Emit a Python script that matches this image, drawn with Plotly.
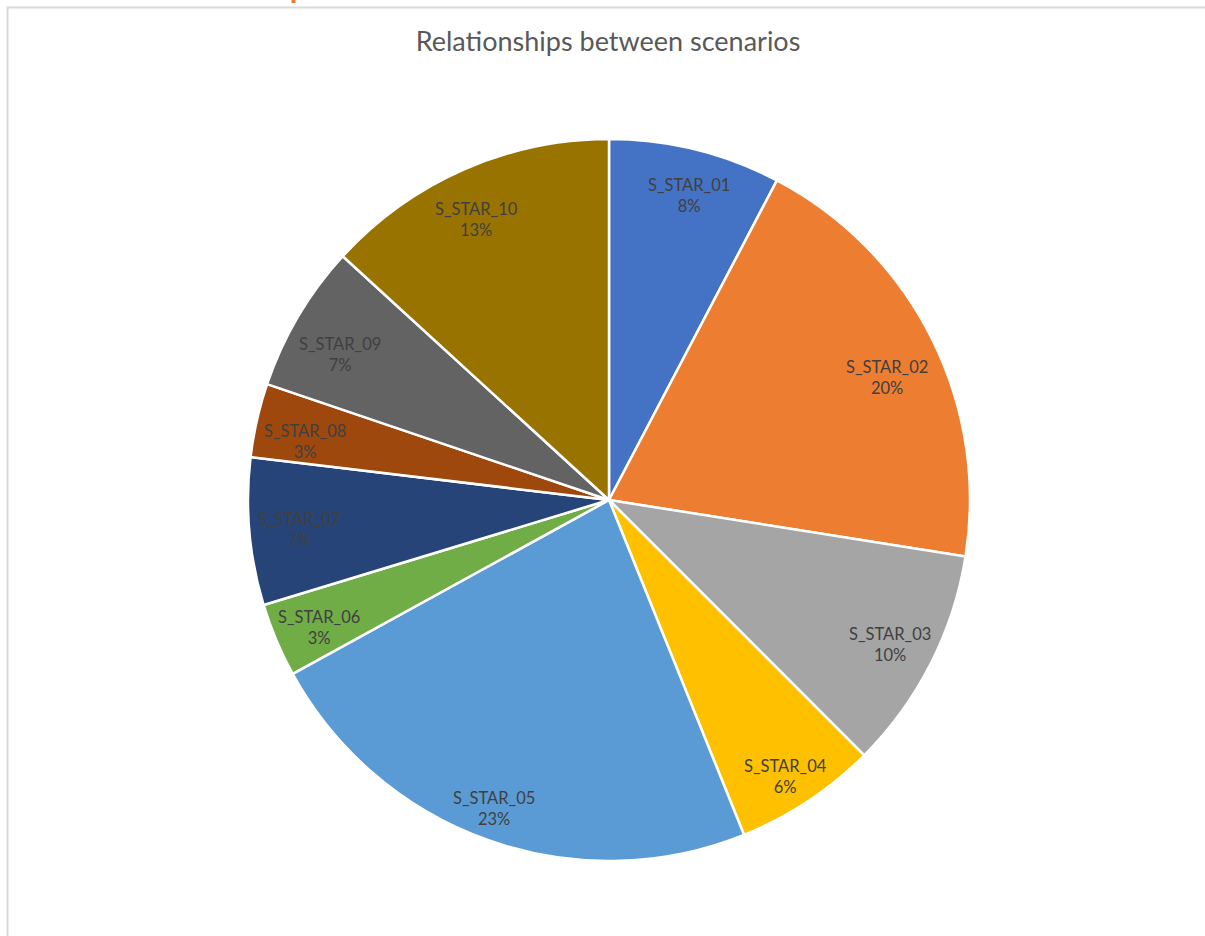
import math
import plotly.graph_objects as go

# Scenario shares (percent of relationships)
scenarios = ["S_STAR_01", "S_STAR_02", "S_STAR_03", "S_STAR_04", "S_STAR_05",
             "S_STAR_06", "S_STAR_07", "S_STAR_08", "S_STAR_09", "S_STAR_10"]
shares = [7.7, 19.8, 10.0, 6.4, 23.1, 3.3, 6.6, 3.3, 6.6, 13.2]
colors = ["#4472C4", "#ED7D31", "#A5A5A5", "#FFC000", "#5B9BD5",
          "#70AD47", "#264478", "#9E480E", "#636363", "#997300"]

# Small per-label pixel nudges (dx, dy) so each label fits snugly near the rim
label_nudge = [(5, 1), (-4, 19), (0, 1), (3, 14), (-9, 12),
               (0, 5), (4, 2), (3, 11), (2, 15), (-6, 8)]

W, H = 1205, 936
CX, CY, R = 609, 500, 361  # pie centre and radius in pixels
LABEL_R = 0.873            # label distance as a fraction of the radius

fig = go.Figure(go.Pie(
    labels=scenarios,
    values=shares,
    sort=False,
    direction="clockwise",
    rotation=0,
    marker=dict(colors=colors, line=dict(color="white", width=2.5)),
    textinfo="none",
    hoverinfo="label+percent",
    domain=dict(x=[(CX - R) / W, (CX + R) / W],
                y=[(H - CY - R) / H, (H - CY + R) / H]),
))

# Category name + percentage inside each slice, at its mid angle
total = sum(shares)
annotations = []
cum = 0.0
for name, v, (ndx, ndy) in zip(scenarios, shares, label_nudge):
    mid = (cum + v / 2) / total * 2 * math.pi
    cum += v
    px = CX + LABEL_R * R * math.sin(mid) + ndx
    py = CY - LABEL_R * R * math.cos(mid) + ndy
    annotations.append(dict(
        x=px / W, y=1 - py / H, xref="paper", yref="paper",
        xanchor="center", yanchor="middle",
        text=f"{name}<br>{round(v / total * 100)}%",
        showarrow=False, align="center",
        font=dict(family="Lato, 'Open Sans', sans-serif", size=16.5, color="#404040"),
    ))

fig.update_layout(
    width=W, height=H,
    margin=dict(l=0, r=0, t=0, b=0),
    paper_bgcolor="white",
    plot_bgcolor="white",
    showlegend=False,
    title=dict(
        text="Relationships between scenarios",
        x=608 / W, xanchor="center",
        y=1 - 42 / H, yanchor="middle",
        font=dict(family="Lato, 'Open Sans', sans-serif", size=27, color="#595959"),
    ),
    annotations=annotations,
    shapes=[
        # chart frame
        dict(
            type="rect", xref="paper", yref="paper",
            x0=7.5 / W, x1=1.05, y0=-0.05, y1=1 - 7.5 / H,
            line=dict(color="#D9D9D9", width=2), fillcolor="rgba(0,0,0,0)",
            layer="below",
        ),
        # clipped glyph of the heading above the chart
        dict(
            type="rect", xref="paper", yref="paper",
            x0=291.5 / W, x1=295.5 / W, y0=1 - 3 / H, y1=1.0,
            line=dict(width=0), fillcolor="#ED7D31",
        ),
    ],
)

fig.write_html("out.html")
